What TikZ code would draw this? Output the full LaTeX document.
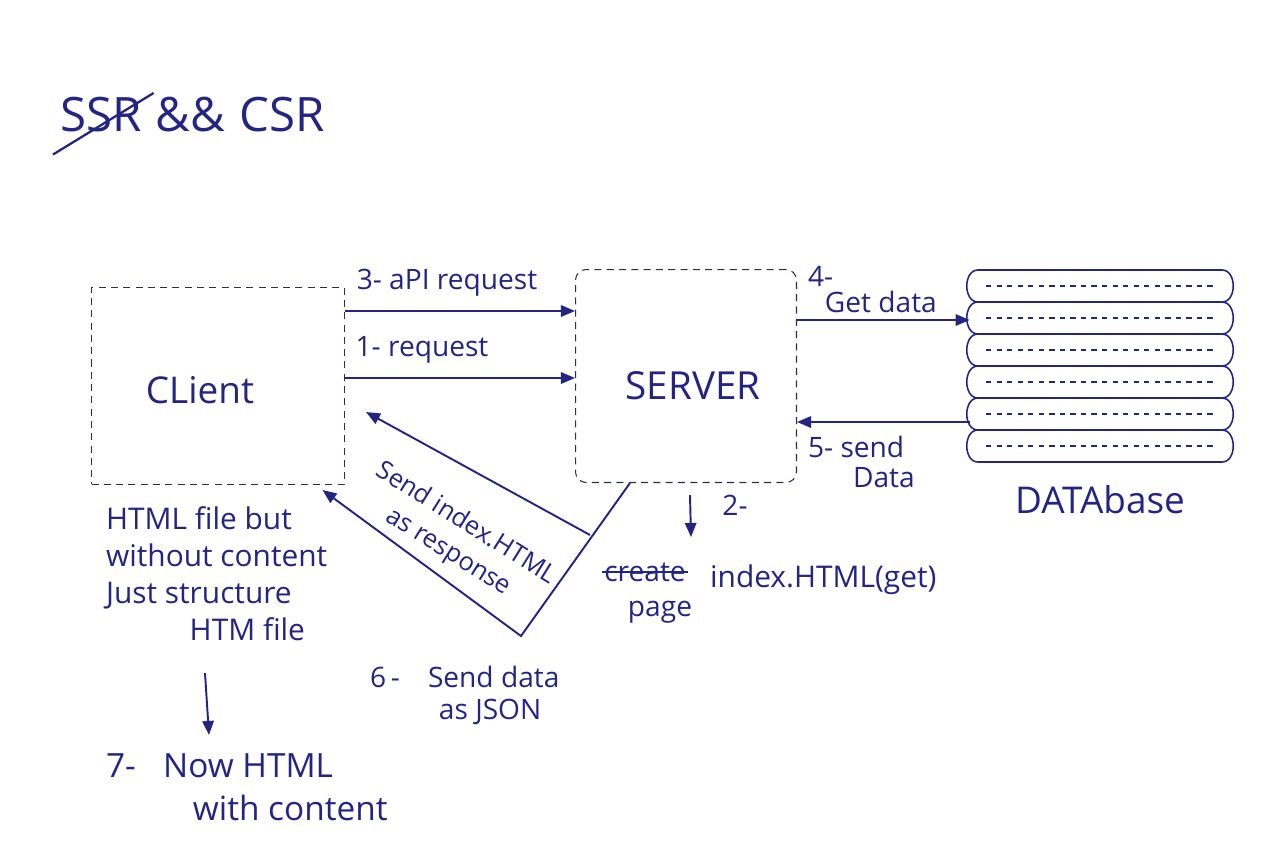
\documentclass[tikz,border=0pt]{standalone}
\usepackage{fontspec}
\setmainfont{Open Sans}
\usetikzlibrary{arrows.meta, positioning, calc}
\definecolor{ink}{RGB}{36,36,132}
\definecolor{pencil}{RGB}{45,45,80}

\begin{document}
\begin{tikzpicture}[x=0.02cm, y=-0.02cm,
	box/.style = {draw=pencil, dash pattern=on 4pt off 3pt, line width=0.6pt},
	lbl/.style = {text=ink, inner sep=1pt, font=\fontsize{16}{20}\selectfont},
	big/.style = {text=ink, inner sep=1pt, font=\fontsize{21}{25}\selectfont},
	arr/.style = {% connection arrow
		draw=ink, line width=1.1pt, -{Triangle[length=8pt,width=6.5pt]}},
	coil/.style = {draw=ink, line width=0.9pt}]

\useasboundingbox (0,0) rectangle (1280,863);

% title
\node[big, font=\fontsize{27}{30}\selectfont, anchor=west] (ssr) at (58,115) {SSR};
\node[big, font=\fontsize{27}{30}\selectfont, right=2mm of ssr] (and) {\&\&};
\node[big, font=\fontsize{27}{30}\selectfont, right=2mm of and] (csr) {CSR};
\draw[ink, line width=1.3pt] ([xshift=-1mm,yshift=-4mm]ssr.south west) -- ([xshift=2mm,yshift=0.5mm]ssr.north east);

% boxes
\node[box, minimum width=5.06cm, minimum height=3.94cm] (client) at (218,386) {};
\node[big] (clientlbl) at (200,390) {CLient};
\node[box, rounded corners=6pt, minimum width=4.42cm, minimum height=4.26cm] (server) at (686,376) {};
\node[big, font=\fontsize{22}{26}\selectfont] (serverlbl) at (693,386) {SERVER};
\node[minimum width=5.2cm, minimum height=3.9cm, inner sep=0pt] (db) at (1100,366) {};
\node[big, below=4mm of db] (dblbl) {DATAbase};

% database rings
\foreach \k in {0,...,5} {
	\pgfmathsetmacro\ya{270+32*\k}
	\pgfmathsetmacro\yb{\ya+16}
	\pgfmathsetmacro\yc{\ya+32}
	\draw[coil] (978,\ya) -- (1222,\ya);
	\draw[coil, dashed] (986,\yb) -- (1214,\yb);
	\draw[coil] (978,\ya) to[out=180,in=180,looseness=1.2] (978,\yc);
	\draw[coil] (1222,\ya) to[out=0,in=0,looseness=1.2] (1222,\yc);
}
\draw[coil] (978,462) -- (1222,462);

% rows of the arrows
\coordinate (r3) at (0,311);
\coordinate (r1) at (0,378);
\coordinate (r4) at (0,320);
\coordinate (r5) at (0,422);

% client <-> server
\draw[arr] (client.east |- r3) -- (server.west |- r3);
\node[lbl, anchor=south] (apilbl) at (447,298) {3- aPI request};
\draw[arr] (client.east |- r1) -- (server.west |- r1);
\node[lbl, anchor=south] (reqlbl) at (422,365) {1- request};

% server <-> database
\draw[arr] (server.east |- r4) -- (db.west |- r4);
\node[lbl, anchor=north west, align=left] (getlbl) at (806,264) {4-\\[-5pt]\hspace*{0.6em}Get data};
\draw[arr] (db.west |- r5) -- (server.east |- r5);
\node[lbl, anchor=north west, align=left] (sendlbl) at (806,434) {5- send\\[-3pt]\hspace*{1.6em}Data};

% response with index.HTML
\coordinate (resp0) at (590,535);
\coordinate (resp1) at (366,412);
\draw[arr] (resp0) -- (resp1);
\node[lbl, font=\fontsize{14.5}{19}\selectfont, rotate=-32, align=center] (resplbl) at (457,538) {Send index.HTML\\as response};

% data as JSON
\coordinate (vtip) at (521,636);
\draw[arr] ([xshift=1.1cm]server.south west) -- (vtip) -- ([xshift=-0.45cm,yshift=-0.1cm]client.south east);
\node[lbl, anchor=north west, align=left] (jsonlbl) at (368,664) {6\,-\quad Send data\\[-2pt]\hspace*{2.45em}as JSON};

% step 2
\node[lbl] (twolbl) at (735,505) {2-};
\node[lbl] (create) at (645,572) {create};
\draw[ink, line width=1.1pt] (create.west) -- (create.east);
\node[lbl] (page) at (660,612) {page};
\node[lbl, font=\fontsize{17}{20}\selectfont, anchor=west] (indexlbl) at (708,580) {index.HTML(get)};
\draw[arr] ([xshift=0.08cm,yshift=-0.24cm]server.south) -- ([xshift=0.1cm,yshift=-1.08cm]server.south);

% client result
\node[lbl, font=\fontsize{17}{21}\selectfont, anchor=north west, align=left] (htmllbl) at (104,505) {HTML file but\\without content\\Just structure\\\hspace*{2.8em}HTM file};
\node[lbl, font=\fontsize{19}{24}\selectfont, anchor=north west, align=left] (nowlbl) at (104,752) {7-\;\; Now HTML\\\hspace*{2.6em}with content};
\draw[arr] ([yshift=-0.6cm]htmllbl.south -| 205,0) -- ([yshift=0.34cm]nowlbl.north -| 209,0);

\end{tikzpicture}
\end{document}
